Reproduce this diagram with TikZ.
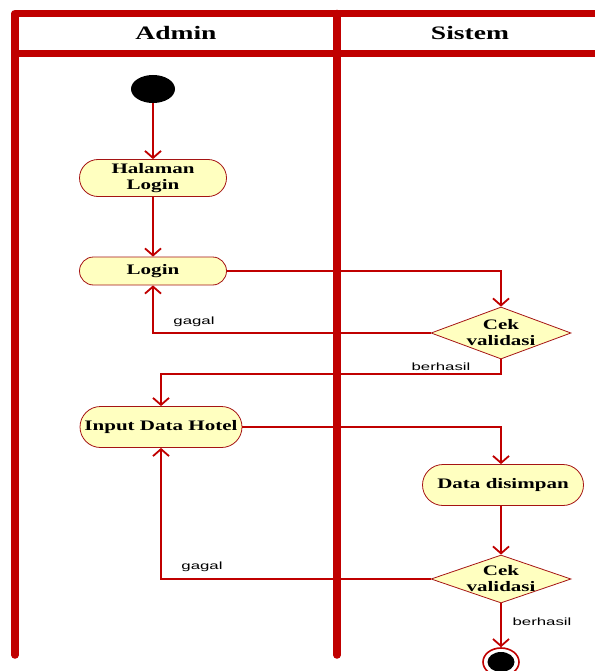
\documentclass[tikz,border=0pt]{standalone}
\usepackage{fontspec}
\setmainfont{Liberation Serif}
\newfontfamily\titlefont[FakeStretch=1.45]{Liberation Serif}
\newfontfamily\actfont[FakeStretch=1.45]{Liberation Serif}
\newfontfamily\guardfont[FakeStretch=1.6]{Liberation Sans}
\usetikzlibrary{arrows.meta,shapes.geometric,shapes.misc}

\definecolor{lane}{RGB}{192,0,0}
\definecolor{flow}{RGB}{192,0,0}
\definecolor{rim}{RGB}{165,20,20}
\definecolor{actfill}{RGB}{255,255,192}

\tikzset{
  lanebar/.style={line width=7.5pt, draw=lane, line cap=round, line join=round},
  lanetitle/.style={font=\titlefont\bfseries\fontsize{19}{22}\selectfont, inner sep=0pt},
  activity/.style={rounded rectangle, draw=rim, line width=0.8pt, fill=actfill,
    inner sep=0pt, align=center,
    font=\actfont\bfseries\fontsize{14.5}{16}\selectfont},
  decision/.style={diamond, draw=rim, line width=0.8pt, fill=actfill, inner sep=0pt},
  decisiontext/.style={inner sep=0pt, align=center,
    font=\actfont\bfseries\fontsize{14.5}{16}\selectfont},
  flowline/.style={draw=flow, line width=1.8pt,
    -{Straight Barb[length=7pt,width=16pt]}},
  guard/.style={inner sep=0pt, font=\guardfont\fontsize{10.5}{12}\selectfont},
}

\begin{document}
\begin{tikzpicture}[x=1pt,y=-1pt]
  \useasboundingbox (0,0) rectangle (594,671);

  % swimlane frame
  \draw[lanebar] (15,655) -- (15,13.5) -- (610,13.5);
  \draw[lanebar] (15,53.5) -- (610,53.5);
  \draw[lanebar] (337,13.5) -- (337,655);
  \node[lanetitle] (laneA) at (176,33) {Admin};
  \node[lanetitle] (laneS) at (470,33) {Sistem};

  % activity nodes
  \node[ellipse, fill=black, minimum width=44, minimum height=28, inner sep=0pt] (start) at (153,89) {};
  \node[activity, minimum width=147, minimum height=37] (hl) at (153,178) {Halaman\\Login};
  \node[activity, minimum width=147, minimum height=28] (login) at (153,271) {Login};
  \node[decision, minimum width=140, minimum height=52] (d1) at (501,333) {};
  \node[decisiontext] (d1t) at (501,333) {Cek\\validasi};
  \node[activity, minimum width=162, minimum height=41] (idh) at (161,427) {Input Data Hotel};
  \node[activity, minimum width=161, minimum height=41] (dd) at (503,485) {Data disimpan};
  \node[decision, minimum width=140, minimum height=48] (d2) at (501,579) {};
  \node[decisiontext] (d2t) at (501,579) {Cek\\validasi};
  \node[ellipse, draw=lane, line width=1.6pt, fill=white, minimum width=36, minimum height=28, inner sep=0pt] (end) at (501,662) {};
  \node[ellipse, fill=black, minimum width=27, minimum height=20, inner sep=0pt] (endcore) at (end) {};

  % routing points
  \coordinate (b1) at (501,374);

  % control flow
  \draw[flowline] (start) -- (hl);
  \draw[flowline] (hl) -- (login);
  \draw[flowline] (login.east) -| (d1.north);
  \draw[flowline] (d1.west) -| (login.south);
  \draw[flowline] (d1.south) -- (b1) -| (idh.north);
  \draw[flowline] (idh.east) -| ([xshift=-2pt]dd.north);
  \draw[flowline] ([xshift=-2pt]dd.south) -- (d2.north);
  \draw[flowline] (d2.west) -| (idh.south);
  \draw[flowline] (d2.south) -- (end.north);

  % guard labels
  \node[guard] (g1) at (194,322) {gagal};
  \node[guard] (s1) at (441,367) {berhasil};
  \node[guard] (g2) at (202,567) {gagal};
  \node[guard] (s2) at (542,622) {berhasil};
\end{tikzpicture}
\end{document}
